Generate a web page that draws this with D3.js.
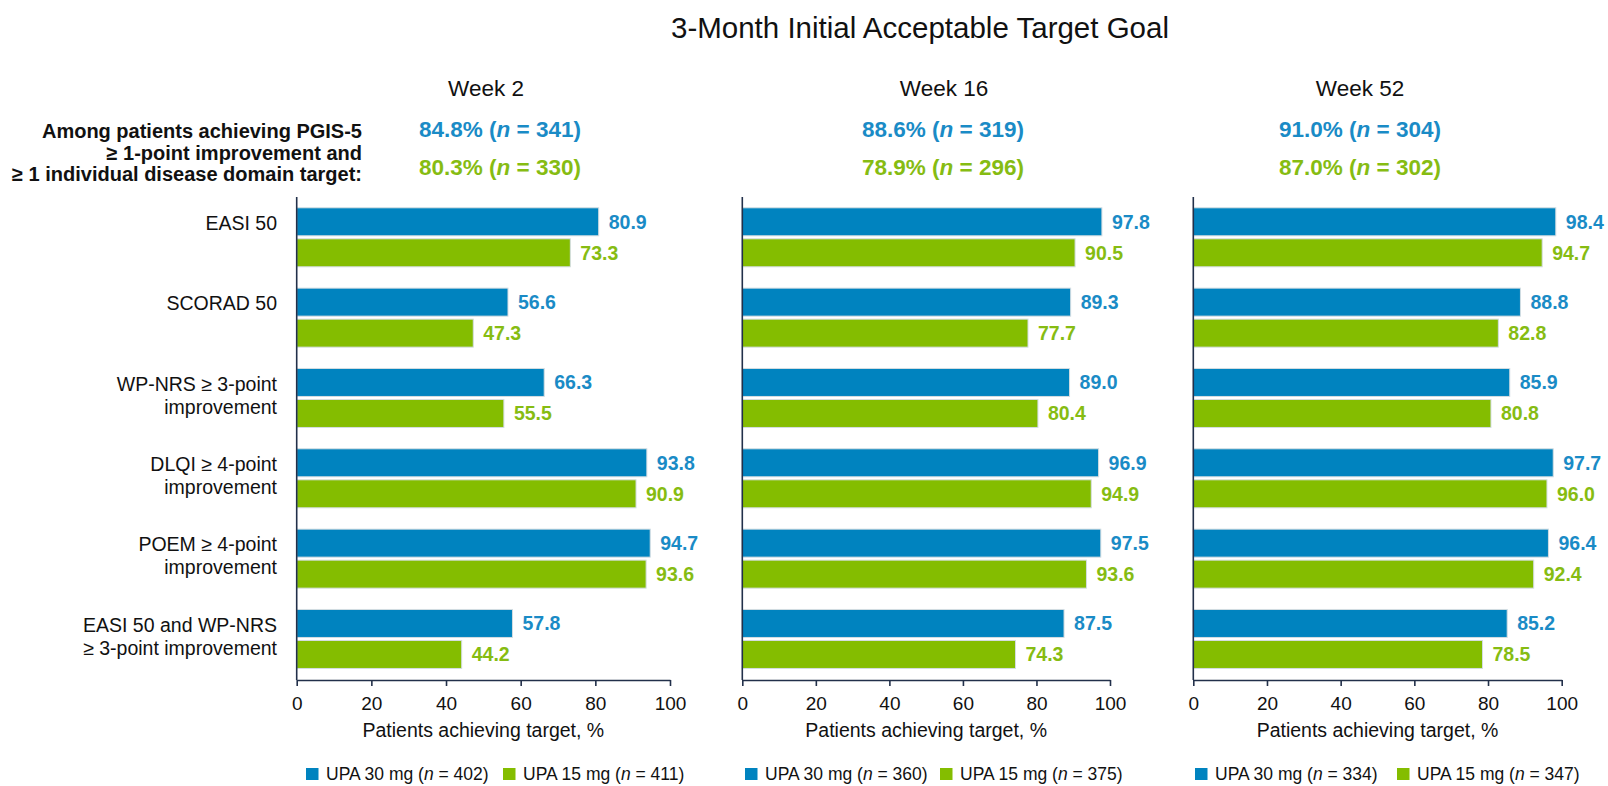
<!DOCTYPE html>
<html>
<head>
<meta charset="utf-8">
<script src="https://cdnjs.cloudflare.com/ajax/libs/d3/7.8.5/d3.min.js"></script>
<style>
  body { margin: 0; background: #fff; }
  text { font-family: "Liberation Sans", Arial, sans-serif; }
</style>
</head>
<body>
<script>
// chart values
var categories = ["EASI 50", "SCORAD 50", "WP-NRS \u2265 3-point\nimprovement",
  "DLQI \u2265 4-point\nimprovement", "POEM \u2265 4-point\nimprovement",
  "EASI 50 and WP-NRS\n\u2265 3-point improvement"]
var weeks = ["Week 2", "Week 16", "Week 52"]

var upa30Week2 = [80.9, 56.6, 66.3, 93.8, 94.7, 57.8]
var upa15Week2 = [73.3, 47.3, 55.5, 90.9, 93.6, 44.2]
var upa30Week16 = [97.8, 89.3, 89.0, 96.9, 97.5, 87.5]
var upa15Week16 = [90.5, 77.7, 80.4, 94.9, 93.6, 74.3]
var upa30Week52 = [98.4, 88.8, 85.9, 97.7, 96.4, 85.2]
var upa15Week52 = [94.7, 82.8, 80.8, 96.0, 92.4, 78.5]

var headPct30 = [84.8, 88.6, 91.0]
var headN30 = [341, 319, 304]
var headPct15 = [80.3, 78.9, 87.0]
var headN15 = [330, 296, 302]

var legendN30 = [402, 360, 334]
var legendN15 = [411, 375, 347]

var xTicks = [0, 20, 40, 60, 80, 100]

var upa30 = [upa30Week2, upa30Week16, upa30Week52]
var upa15 = [upa15Week2, upa15Week16, upa15Week52]

var width = 1608
var height = 786

var blue = "#0083bf"
var green = "#84bd00"
var blueText = "#1a8bc6"
var greenText = "#86bc12"
var axisColor = "#22304a"

// panel layout
var panelX0 = [296.7, 742.3, 1193.3]
var panelX1 = [670, 1110, 1561.7]
var headCenter = [500, 943, 1360]
var weekCenter = [486, 944, 1360]
var legendX = [306, 745, 1195]
var legendX2 = [503, 940, 1397]

var svg = d3.select("body")
            .append("svg")
            .attr("width", width)
            .attr("height", height)

svg.append("text")
   .attr("x", 920)
   .attr("y", 38)
   .attr("text-anchor", "middle")
   .attr("font-size", 29.5)
   .attr("fill", "#111")
   .text("3-Month Initial Acceptable Target Goal")

// left header text
var headLines = ["Among patients achieving PGIS-5", "\u2265 1-point improvement and", "\u2265 1 individual disease domain target:"]
svg.selectAll(".headline")
   .data(headLines)
   .enter()
   .append("text")
   .attr("class", "headline")
   .attr("x", 362)
   .attr("y", function(d, i) { return 138 + i * 21.5 })
   .attr("text-anchor", "end")
   .attr("font-size", 20)
   .attr("font-weight", "bold")
   .attr("fill", "#111")
   .text(function(d) { return d })

var yScale = d3.scaleBand()
               .domain(categories)
               .range([198, 680])

var inner = d3.scaleBand()
              .domain(["30", "15"])
              .range([9.8, 68.8])
              .paddingInner(0.097)

// category labels
var catG = svg.selectAll(".cat")
   .data(categories)
   .enter()
   .append("text")
   .attr("class", "cat")
   .attr("text-anchor", "end")
   .attr("font-size", 19.5)
   .attr("fill", "#111")

catG.selectAll("tspan")
    .data(function(d) { return d.split("\n").map(function(t) { return {t: t, c: d} }) })
    .enter()
    .append("tspan")
    .attr("x", 277)
    .attr("y", function(d, i) { return yScale(d.c) + inner("30") + inner.bandwidth() / 2 + 1.5 + i * 23 })
    .attr("dy", "0.35em")
    .text(function(d) { return d.t })

weeks.forEach(function(week, p) {
  var xScale = d3.scaleLinear()
                 .domain([0, 100])
                 .range([panelX0[p], panelX1[p]])

  var g = svg.append("g")

  g.append("text")
   .attr("x", weekCenter[p])
   .attr("y", 96)
   .attr("text-anchor", "middle")
   .attr("font-size", 22.5)
   .attr("fill", "#111")
   .text(week)

  // header percentages
  var heads = [
    {pct: headPct30[p], n: headN30[p], col: blueText, y: 137},
    {pct: headPct15[p], n: headN15[p], col: greenText, y: 175}
  ]
  heads.forEach(function(h) {
    var t = g.append("text")
             .attr("x", headCenter[p])
             .attr("y", h.y)
             .attr("text-anchor", "middle")
             .attr("font-size", 22.5)
             .attr("font-weight", "bold")
             .attr("fill", h.col)
    t.append("tspan").text(h.pct.toFixed(1) + "% (")
    t.append("tspan").attr("font-style", "italic").text("n")
    t.append("tspan").text(" = " + h.n + ")")
  })

  var rows = categories.map(function(c, i) {
    return [{c: c, s: "30", v: upa30[p][i]}, {c: c, s: "15", v: upa15[p][i]}]
  })
  var flat = [].concat.apply([], rows)

  //creates bars
  g.selectAll("rect.bar")
   .data(flat)
   .enter()
   .append("rect")
   .attr("class", "bar")
   .attr("x", xScale(0))
   .attr("y", function(d) { return yScale(d.c) + inner(d.s) })
   .attr("width", function(d) { return xScale(d.v) - xScale(0) })
   .attr("height", inner.bandwidth())
   .attr("fill", function(d) { return d.s == "30" ? blue : green })
   .attr("stroke", "#d4dde2")
   .attr("stroke-width", 1)

  g.selectAll("text.val")
   .data(flat)
   .enter()
   .append("text")
   .attr("class", "val")
   .attr("x", function(d) { return xScale(d.v) + 10 })
   .attr("y", function(d) { return yScale(d.c) + inner(d.s) + inner.bandwidth() / 2 })
   .attr("dy", "0.35em")
   .attr("font-size", 19.5)
   .attr("font-weight", "bold")
   .attr("fill", function(d) { return d.s == "30" ? blueText : greenText })
   .text(function(d) { return d.v.toFixed(1) })

  //x axis
  var xAxis = d3.axisBottom()
                .scale(xScale)
                .tickValues(xTicks)
                .tickSize(6)
                .tickPadding(10.5)
                .tickSizeOuter(0)

  var ax = g.append("g")
            .attr("transform", "translate(0,680)")
            .call(xAxis)
  ax.select(".domain").attr("stroke", axisColor).attr("stroke-width", 1.6)
  ax.selectAll(".tick line").attr("stroke", axisColor).attr("stroke-width", 1.6)
  ax.selectAll(".tick text")
    .attr("font-size", 19)
    .attr("font-family", "Liberation Sans, Arial, sans-serif")
    .attr("fill", "#111")

  //y axis line
  g.append("line")
   .attr("x1", xScale(0))
   .attr("x2", xScale(0))
   .attr("y1", yScale.range()[0] - 1)
   .attr("y2", 680)
   .attr("stroke", axisColor)
   .attr("stroke-width", 1.6)

  g.append("text")
   .attr("x", (panelX0[p] + panelX1[p]) / 2)
   .attr("y", 737)
   .attr("text-anchor", "middle")
   .attr("font-size", 19.5)
   .attr("fill", "#111")
   .text("Patients achieving target, %")

  // legend
  var leg = [
    {x: legendX[p], col: blue, dose: "UPA 30 mg", n: legendN30[p]},
    {x: legendX2[p], col: green, dose: "UPA 15 mg", n: legendN15[p]}
  ]
  leg.forEach(function(l) {
    g.append("rect")
     .attr("x", l.x)
     .attr("y", 768)
     .attr("width", 12.5)
     .attr("height", 12)
     .attr("fill", l.col)
    var t = g.append("text")
             .attr("x", l.x + 20)
             .attr("y", 780)
             .attr("font-size", 17.5)
             .attr("fill", "#111")
    t.append("tspan").text(l.dose + " (")
    t.append("tspan").attr("font-style", "italic").text("n")
    t.append("tspan").text(" = " + l.n + ")")
  })
})
</script>
</body>
</html>
